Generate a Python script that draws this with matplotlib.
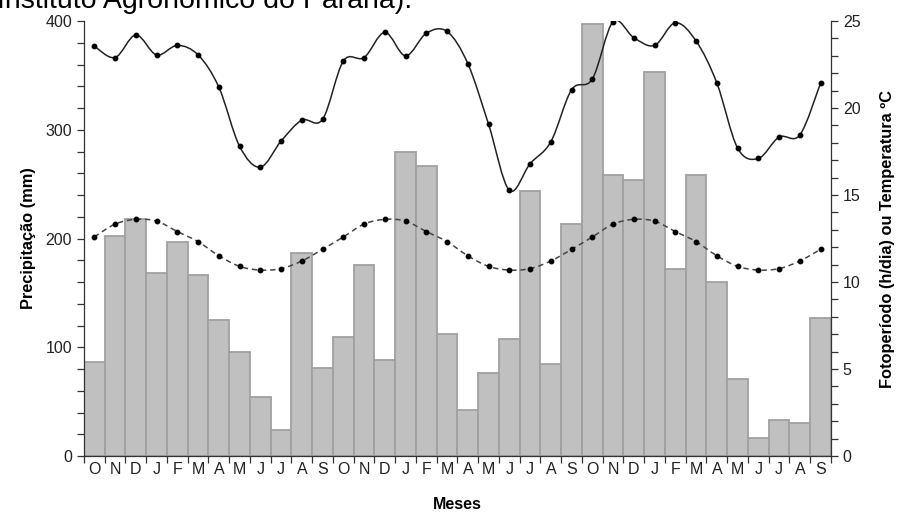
import matplotlib
matplotlib.use("Agg")
import matplotlib.pyplot as plt
import numpy as np
from matplotlib.path import Path
from matplotlib.patches import PathPatch
from matplotlib.ticker import MultipleLocator, FixedLocator

plt.rcParams["font.family"] = ["Liberation Sans", "DejaVu Sans"]

months = ["O", "N", "D", "J", "F", "M", "A", "M", "J", "J", "A", "S"] * 3

precip_mm = [86, 202, 218, 168, 197, 166, 125, 96, 54, 24, 187, 81,
             109, 176, 88, 280, 267, 112, 42, 76, 108, 244, 85, 213,
             397, 258, 254, 353, 172, 258, 160, 71, 17, 33, 30, 127]

temperatura_c = [23.55, 22.9, 24.2, 23.05, 23.6, 23.05, 21.2, 17.8, 16.6, 18.1, 19.3, 19.35,
                 22.7, 22.9, 24.35, 23.0, 24.3, 24.4, 22.55, 19.06, 15.27, 16.8, 18.06, 21.05,
                 21.67, 24.96, 24.04, 23.6, 24.9, 23.85, 21.44, 17.7, 17.1, 18.33, 18.45, 21.44]

fotoperiodo_h = [12.59, 13.33, 13.6, 13.5, 12.9, 12.32, 11.51, 10.9, 10.69, 10.77, 11.21, 11.88,
                 12.59, 13.33, 13.6, 13.5, 12.9, 12.32, 11.51, 10.9, 10.69, 10.77, 11.21, 11.88,
                 12.59, 13.33, 13.6, 13.5, 12.9, 12.32, 11.51, 10.9, 10.69, 10.77, 11.21, 11.88]


def smooth_path(xs, ys):
    # Catmull-Rom style cubic Bezier through every point
    pts = np.column_stack([xs, ys]).astype(float)
    n = len(pts)
    verts = [pts[0]]
    codes = [Path.MOVETO]
    for i in range(n - 1):
        p0 = pts[i - 1] if i > 0 else pts[i]
        p1 = pts[i]
        p2 = pts[i + 1]
        p3 = pts[i + 2] if i + 2 < n else pts[i + 1]
        c1 = p1 + (p2 - p0) / 6.0
        c2 = p2 - (p3 - p1) / 6.0
        verts += [c1, c2, p2]
        codes += [Path.CURVE4] * 3
    return Path(verts, codes)


fig = plt.figure(figsize=(9.0, 5.14), dpi=100)
ax = fig.add_axes([0.0933, 0.1128, 0.83, 0.8463])
x = np.arange(len(precip_mm))

ax.bar(x, precip_mm, width=1.0, color="#c0c0c0", edgecolor="#a0a0a0", linewidth=1.3, zorder=2)
ax.set_xlim(-0.5, len(x) - 0.5)
ax.set_ylim(0, 400)
ax.yaxis.set_major_locator(MultipleLocator(100))
ax.yaxis.set_minor_locator(MultipleLocator(20))
ax.xaxis.set_major_locator(FixedLocator(np.arange(len(x) + 1) - 0.5))
ax.xaxis.set_minor_locator(FixedLocator(x))
ax.xaxis.set_major_formatter(plt.NullFormatter())
ax.set_xticklabels(months, minor=True)
ax.tick_params(axis="x", which="major", length=5, width=0.9, color="#333333")
ax.tick_params(axis="x", which="minor", length=0, labelsize=11.5, pad=4, labelcolor="#222222")
ax.tick_params(axis="y", which="both", length=5, width=0.9, color="#333333", labelsize=11.5, labelcolor="#222222")
for side in ["top", "right"]:
    ax.spines[side].set_visible(False)
for side in ["left", "bottom"]:
    ax.spines[side].set_color("#333333")
    ax.spines[side].set_linewidth(0.9)
ax.set_ylabel("Precipitação (mm)", fontsize=11.8, fontweight="bold", labelpad=7)
ax.set_xlabel("Meses", fontsize=11.5, fontweight="bold", labelpad=15)

ax2 = ax.twinx()
ax2.set_ylim(0, 25)
ax2.yaxis.set_major_locator(MultipleLocator(5))
ax2.yaxis.set_minor_locator(MultipleLocator(1))
ax2.tick_params(axis="y", which="both", length=5, width=0.9, color="#333333", labelsize=11.5, labelcolor="#222222")
for side in ["top", "left", "bottom"]:
    ax2.spines[side].set_visible(False)
ax2.spines["right"].set_color("#333333")
ax2.spines["right"].set_linewidth(0.9)
ax2.set_ylabel("Fotoperíodo (h/dia) ou Temperatura ºC", fontsize=11.8, fontweight="bold", labelpad=14)

ax2.add_patch(PathPatch(smooth_path(x, temperatura_c), fill=False, edgecolor="#222222", linewidth=1.1, zorder=3))
ax2.plot(x, temperatura_c, linestyle="none", marker="o", markersize=3.2, color="black", zorder=4)
ax2.add_patch(PathPatch(smooth_path(x, fotoperiodo_h), fill=False, edgecolor="#444444", linewidth=1.1,
                        linestyle=(0, (3.5, 2.5)), zorder=3))
ax2.plot(x, fotoperiodo_h, linestyle="none", marker="o", markersize=3.2, color="black", zorder=4)

fig.text(-0.003, 0.984, "Instituto Agronômico do Paraná).", fontsize=20.5, ha="left", va="baseline", color="black")

fig.savefig("out.png", dpi=100)
